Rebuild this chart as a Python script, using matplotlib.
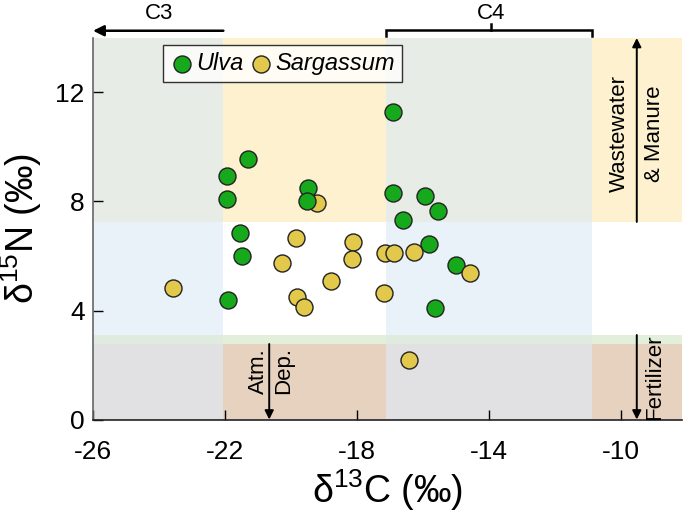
import matplotlib
matplotlib.use("Agg")
import matplotlib.pyplot as plt
from matplotlib.patches import Rectangle
import matplotlib.transforms as mtransforms

plt.rcParams['font.family'] = ['Liberation Sans', 'DejaVu Sans']
plt.rcParams['mathtext.fontset'] = 'custom'
plt.rcParams['mathtext.rm'] = 'Liberation Sans'
plt.rcParams['mathtext.it'] = 'Liberation Sans:italic'

# isotope values
ulva_c = [-16.9, -21.29, -21.93, -21.93, -19.49, -19.5, -16.9, -15.94, -15.54,
          -16.62, -21.55, -21.49, -21.91, -15.81, -15.0, -15.65]
ulva_n = [11.3, 9.55, 8.95, 8.08, 8.5, 8.02, 8.3, 8.21, 7.65,
          7.31, 6.86, 6.0, 4.39, 6.45, 5.66, 4.09]
sarg_c = [-19.22, -23.59, -19.86, -20.26, -18.11, -18.14, -18.8, -19.82, -19.62,
          -17.16, -16.88, -16.28, -14.58, -17.18, -16.43]
sarg_n = [7.96, 4.81, 6.67, 5.75, 6.5, 5.89, 5.07, 4.48, 4.13,
          6.1, 6.1, 6.13, 5.38, 4.65, 2.2]
sarg_behind = [True] + [False] * 14

# background source zones
x_edges = [-26, -22.05, -17.12, -10.87, -8.15]
y_edges = [0, 2.77, 3.1, 7.25, 14]
cell_colors = [
    ['#e1e1e3', '#e6d2bf', '#e1e1e3', '#e6d2bf'],
    ['#e0ebdf', '#e2efdb', '#e0ebdf', '#e2efdb'],
    ['#e9f1f9', '#ffffff', '#e9f1f9', '#ffffff'],
    ['#e8ece6', '#fdf1d0', '#e8ece6', '#fdf1d0'],
]

fig = plt.figure(figsize=(6.85, 5.19), dpi=100)
ax = fig.add_axes([0.1358, 0.1917, 0.8598, 0.7351])

for i in range(len(y_edges) - 1):
    for j in range(len(x_edges) - 1):
        ax.add_patch(Rectangle((x_edges[j], y_edges[i]), x_edges[j + 1] - x_edges[j],
                               y_edges[i + 1] - y_edges[i], color=cell_colors[i][j],
                               lw=0, zorder=0))

ms = 150
green = '#16a91c'
yellow = '#e2c94b'
behind_c = [c for c, b in zip(sarg_c, sarg_behind) if b]
behind_n = [n for n, b in zip(sarg_n, sarg_behind) if b]
front_c = [c for c, b in zip(sarg_c, sarg_behind) if not b]
front_n = [n for n, b in zip(sarg_n, sarg_behind) if not b]
ax.scatter(behind_c, behind_n, s=ms, c=yellow, edgecolors='#222222', linewidths=1, zorder=3)
ax.scatter(ulva_c, ulva_n, s=ms, c=green, edgecolors='#222222', linewidths=1, zorder=4,
           label='Ulva')
ax.scatter(front_c, front_n, s=ms, c=yellow, edgecolors='#222222', linewidths=1, zorder=5,
           label='Sargassum')

ax.set_xlim(-26, -8.15)
ax.set_ylim(0, 14)
ax.set_xticks([-26, -22, -18, -14, -10])
ax.set_xticklabels(['-26', '-22', '-18', '-14', '-10'])
ax.set_yticks([0, 4, 8, 12])
ax.tick_params(axis='x', direction='in', length=7, width=1, labelsize=19, pad=15)
ax.tick_params(axis='y', direction='in', length=7, width=1, labelsize=19, pad=6)
for s in ['top', 'right']:
    ax.spines[s].set_visible(False)
ax.spines['left'].set_color('#666666')
ax.spines['bottom'].set_color('#222222')
ax.spines['left'].set_linewidth(1.2)
ax.spines['bottom'].set_linewidth(1.2)

ax.set_xlabel('δ$^{13}$C (‰)', fontsize=27, labelpad=2)
ax.set_ylabel('δ$^{15}$N (‰)', fontsize=27, labelpad=8)

leg = ax.legend(loc='upper left', bbox_to_anchor=(0.119, 0.982), borderaxespad=0,
                ncol=2, prop={'style': 'italic', 'size': 17}, handlelength=1.0,
                handletextpad=0.1, columnspacing=0.25, borderpad=0.3,
                frameon=True, fancybox=False, edgecolor='black')
leg.get_frame().set_linewidth(1)
leg.set_zorder(10)

# C3 / C4 markers above the plot
trans = mtransforms.blended_transform_factory(ax.transData, ax.transAxes)
ax.annotate('', xy=(-26, 1.019), xytext=(-22.05, 1.019), xycoords=trans, textcoords=trans,
            arrowprops=dict(arrowstyle='-|>', lw=1.8, color='black', mutation_scale=16,
                            shrinkA=0, shrinkB=0), annotation_clip=False)
ax.text(-24.0, 1.064, 'C3', transform=trans, ha='center', va='center', fontsize=16)
ax.plot([-17.12, -17.12, -10.87, -10.87], [1.004, 1.02, 1.02, 1.004], transform=trans,
        color='black', lw=1.8, clip_on=False, solid_joinstyle='miter')
ax.plot([-13.95, -13.95], [1.02, 1.036], transform=trans, color='black', lw=1.8,
        clip_on=False)
ax.text(-13.95, 1.064, 'C4', transform=trans, ha='center', va='center', fontsize=16)

# nitrogen source arrows
arrow_kw = dict(arrowstyle='-|>', lw=1.4, color='black', mutation_scale=13,
                shrinkA=0, shrinkB=0)
ax.annotate('', xy=(-9.52, 14), xytext=(-9.52, 7.25), arrowprops=arrow_kw,
            annotation_clip=False)
ax.annotate('', xy=(-9.52, 0), xytext=(-9.52, 3.1), arrowprops=arrow_kw,
            annotation_clip=False)
ax.annotate('', xy=(-20.66, 0), xytext=(-20.66, 2.77), arrowprops=arrow_kw,
            annotation_clip=False)
ax.text(-10.05, 10.5, 'Wastewater', rotation=90, ha='center', va='center', fontsize=16)
ax.text(-8.97, 10.5, '& Manure', rotation=90, ha='center', va='center', fontsize=16)
ax.text(-8.97, 1.56, 'Fertilizer', rotation=90, ha='center', va='center', fontsize=16)
ax.text(-21.0, 0.95, 'Atm.', rotation=90, ha='center', va='bottom', fontsize=16)
ax.text(-20.21, 0.95, 'Dep.', rotation=90, ha='center', va='bottom', fontsize=16)

fig.savefig('out.png', dpi=100)
